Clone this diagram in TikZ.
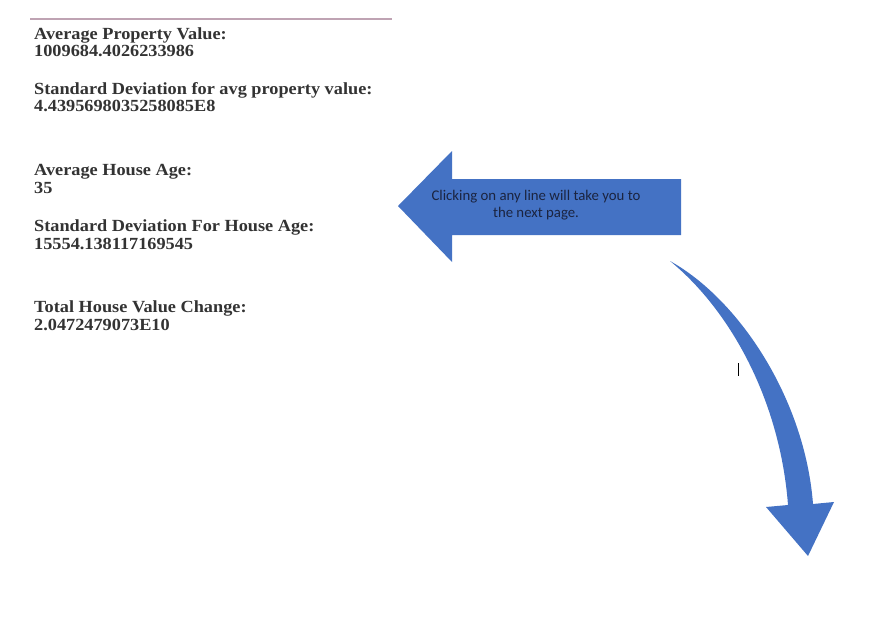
\documentclass[tikz,border=0pt]{standalone}
\usepackage{fontspec}
\setmainfont{Liberation Serif}
\newfontfamily\statfont[FakeStretch=1.075]{Liberation Serif}
\newfontfamily\calib{Carlito}
\definecolor{arrowblue}{HTML}{4472C4}
\definecolor{txtgray}{HTML}{333333}
\definecolor{navytxt}{HTML}{1B2440}
\definecolor{rulecol}{HTML}{BFA3B3}
\begin{document}
\begin{tikzpicture}[x=1pt,y=-1pt,
  stat/.style={anchor=base west,inner sep=0pt,text=txtgray,font=\statfont\fontsize{17}{19}\selectfont\bfseries},
  blueshape/.style={fill=arrowblue,draw=none},
  note/.style={align=center,text=navytxt,font=\calib\fontsize{14.8}{16.5}\selectfont,inner sep=0pt}]
\useasboundingbox (0,0) rectangle (872,616);
\fill[white] (0,0) rectangle (872,616);
% top rule
\coordinate (r1) at (30,19);
\coordinate (r2) at (392,19);
\draw[rulecol,line width=1.3pt] (r1) -- (r2);
% stats text
\node[stat] (t1) at (34,39) {Average Property Value:};
\node[stat] (v1) at (34,56) {1009684.4026233986};
\node[stat] (t2) at (34,94) {Standard Deviation for avg property value:};
\node[stat] (v2) at (34,111) {4.4395698035258085E8};
\node[stat] (t3) at (34,175) {Average House Age:};
\node[stat] (v3) at (34,193) {35};
\node[stat] (t4) at (34,231) {Standard Deviation For House Age:};
\node[stat] (v4) at (34,249) {15554.138117169545};
\node[stat] (t5) at (34,312) {Total House Value Change:};
\node[stat] (v5) at (34,330) {2.0472479073E10};
% left block arrow
\fill[blueshape] (398,206) -- (452,151) -- (452,179) -- (681,179) -- (681,235) -- (452,235) -- (452,262) -- cycle;
\node[note] (msg) at (536,205) {Clicking on any line will take you to\\the next page.};
% curved arrow
\fill[blueshape] (670,261) .. controls (740,300) and (805,400) .. (813,504)
  -- (834,502) -- (808,556) -- (766,507) -- (788,505)
  .. controls (780,400) and (730,310) .. (670,261) -- cycle;
% text cursor
\coordinate (c1) at (738.3,363);
\coordinate (c2) at (738.3,376);
\draw[black,line width=0.9pt] (c1) -- (c2);
\end{tikzpicture}
\end{document}
